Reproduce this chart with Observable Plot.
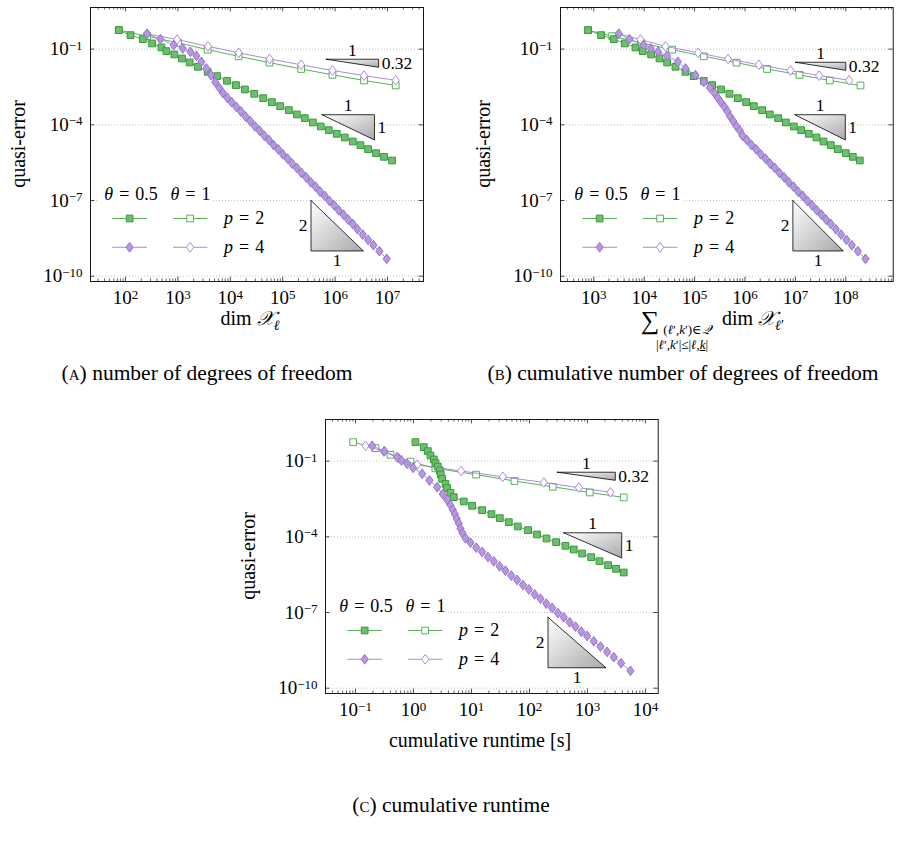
<!DOCTYPE html>
<html>
<head>
<meta charset="utf-8">
<script src="https://cdn.jsdelivr.net/npm/d3@7"></script>
<script src="https://cdn.jsdelivr.net/npm/@observablehq/plot@0.6"></script>
<style>
  body { margin: 0; background: #fff; }
  #fig { position: relative; width: 900px; height: 849px; overflow: hidden; background: #fff;
         font-family: "Liberation Serif", "DejaVu Serif", serif; color: #000; }
  #fig svg { position: absolute; overflow: visible; }
  .t { position: absolute; white-space: nowrap; font-size: 20px; line-height: 1; transform: translate(-50%, -50%); }
  .rot { transform: translate(-50%, -50%) rotate(-90deg); }
  .cap { font-size: 21.5px; }
  .sc { font-variant: small-caps; }
  .sub { font-size: 14px; position: relative; top: 5px; }
</style>
</head>
<body>
<div id="fig"></div>
<script>
// ---- quasi-error per step (log10), shared by the three panels ----
const errP2Adaptive = [-0.247, -0.445, -0.604, -0.775, -0.934, -1.079, -1.211, -1.370, -1.529, -1.700, -1.899,
  -2.070, -2.255, -2.427, -2.599, -2.771, -2.943, -3.101, -3.260, -3.418, -3.590, -3.736, -3.907, -4.066,
  -4.211, -4.357, -4.502, -4.661, -4.806, -4.965, -5.123, -5.269, -5.414];
const errP2Uniform = [-0.247, -0.485, -0.749, -1.020, -1.285, -1.535, -1.787, -2.018, -2.242, -2.440];
const errP4Adaptive = [-0.392, -0.604, -0.841, -0.974, -1.106, -1.264, -1.502, -1.766, -2.031, -2.308, -2.533,
  -2.744, -2.929, -3.101, -3.286, -3.470, -3.672, -3.850, -4.060, -4.230, -4.430, -4.600, -4.800, -4.970,
  -5.170, -5.340, -5.540, -5.710, -5.910, -6.080, -6.280, -6.450, -6.650, -6.820, -7.020, -7.190, -7.390,
  -7.560, -7.760, -7.930, -8.140, -8.350, -8.560, -8.770, -9.010, -9.312];
const errP4Uniform = [-0.392, -0.620, -0.890, -1.145, -1.390, -1.621, -1.846, -2.050, -2.235];

// ---- (a) log10 dim X_l ----
const dofP2Adaptive = [1.873, 2.095, 2.330, 2.508, 2.686, 2.781, 2.933, 3.079, 3.225, 3.384, 3.568, 3.746,
  3.937, 4.108, 4.279, 4.457, 4.629, 4.794, 4.952, 5.117, 5.270, 5.422, 5.575, 5.727, 5.879, 6.032, 6.184,
  6.337, 6.483, 6.629, 6.781, 6.933, 7.086];
const dofP2Uniform = [1.873, 2.413, 3.003, 3.568, 4.159, 4.749, 5.352, 5.949, 6.552, 7.156];
const dofP4Adaptive = [2.413, 2.667, 2.921, 3.092, 3.238, 3.352, 3.448, 3.543, 3.632, 3.714, 3.790, 3.860,
  3.943, 4.025, 4.114, 4.203, 4.292, 4.381, 4.470, 4.559, 4.648, 4.737, 4.825, 4.914, 5.003, 5.092, 5.181,
  5.270, 5.359, 5.448, 5.537, 5.625, 5.714, 5.803, 5.892, 5.981, 6.070, 6.159, 6.248, 6.337, 6.425, 6.527,
  6.629, 6.730, 6.845, 6.984];
const dofP4Uniform = [2.413, 2.984, 3.575, 4.159, 4.749, 5.352, 5.949, 6.552, 7.156];

// ---- (b) log10 cumulative dofs ----
const cumP2Adaptive = [2.888, 3.146, 3.397, 3.615, 3.827, 3.972, 4.138, 4.303, 4.455, 4.620, 4.819, 4.984,
  5.183, 5.348, 5.526, 5.692, 5.857, 6.022, 6.175, 6.340, 6.492, 6.657, 6.810, 6.968, 7.114, 7.266, 7.418,
  7.557, 7.702, 7.841, 8.000, 8.139, 8.278];
const cumP2Uniform = [2.888, 3.364, 3.939, 4.554, 5.183, 5.831, 6.439, 7.081, 7.683, 8.291];
const cumP4Adaptive = [3.496, 3.708, 3.992, 4.131, 4.276, 4.455, 4.667, 4.819, 5.017, 5.183, 5.302, 5.394,
  5.460, 5.520, 5.593, 5.652, 5.705, 5.765, 5.831, 5.897, 5.950, 6.036, 6.128, 6.221, 6.313, 6.406, 6.499,
  6.591, 6.684, 6.776, 6.869, 6.962, 7.054, 7.147, 7.239, 7.332, 7.425, 7.517, 7.610, 7.702, 7.802, 7.907,
  8.013, 8.119, 8.238, 8.390];
const cumP4Uniform = [3.496, 3.926, 4.422, 5.070, 5.665, 6.274, 6.902, 7.471, 8.066];

// ---- (c) log10 cumulative runtime [s] ----
const timeP2Adaptive = [0.034, 0.178, 0.247, 0.293, 0.351, 0.379, 0.420, 0.454, 0.471, 0.494, 0.552, 0.580,
  0.638, 0.695, 0.868, 1.011, 1.184, 1.345, 1.489, 1.644, 1.799, 1.977, 2.132, 2.293, 2.460, 2.621, 2.764,
  2.908, 3.063, 3.207, 3.356, 3.494, 3.626];
const timeP2Uniform = [-1.040, -0.655, -0.397, -0.052, 0.379, 1.080, 1.741, 2.402, 3.040, 3.626];
const timeP4Adaptive = [-0.713, -0.500, -0.282, -0.207, -0.109, -0.006, 0.149, 0.276, 0.408, 0.506, 0.580,
  0.638, 0.678, 0.713, 0.747, 0.782, 0.810, 0.845, 0.897, 0.983, 1.083, 1.184, 1.284, 1.385, 1.486, 1.586,
  1.687, 1.787, 1.888, 1.989, 2.089, 2.190, 2.290, 2.391, 2.491, 2.592, 2.693, 2.793, 2.894, 2.994, 3.109,
  3.224, 3.339, 3.454, 3.580, 3.741];
const timeP4Uniform = [-0.828, -0.511, -0.253, 0.063, 0.822, 1.540, 2.247, 2.851, 3.397];

// ---- slope triangles: corner (log10 x, log10 y), run/rise in decades ----
const trianglesA = [
  {shape: "upper", x: 5.83, y: -1.40, run: 1, rise: 0.32, runLabel: "1", riseLabel: "0.32"},
  {shape: "upper", x: 5.75, y: -3.60, run: 1, rise: 1, runLabel: "1", riseLabel: "1"},
  {shape: "lower", x: 5.54, y: -7.00, run: 1, rise: 2, runLabel: "1", riseLabel: "2"}
];
const trianglesB = [
  {shape: "upper", x: 7.00, y: -1.52, run: 1, rise: 0.32, runLabel: "1", riseLabel: "0.32"},
  {shape: "upper", x: 6.99, y: -3.60, run: 1, rise: 1, runLabel: "1", riseLabel: "1"},
  {shape: "lower", x: 6.95, y: -7.00, run: 1, rise: 2, runLabel: "1", riseLabel: "2"}
];
const trianglesC = [
  {shape: "upper", x: 2.48, y: -1.44, run: 1, rise: 0.32, runLabel: "1", riseLabel: "0.32"},
  {shape: "upper", x: 2.59, y: -3.84, run: 1, rise: 1, runLabel: "1", riseLabel: "1"},
  {shape: "lower", x: 2.32, y: -7.19, run: 1, rise: 2, runLabel: "1", riseLabel: "2"}
];

const yMajorExp = [-1, -4, -7, -10];
const yLogDomain = [-10.21, 0.65];

const FONT = '"Liberation Serif", "DejaVu Serif", serif';
const GREEN = {line: "#46a846", fill: "#6cbf6c", stroke: "#3a9a3a"};
const PURPLE = {line: "#a17fd2", fill: "#b698de", stroke: "#9672ca"};

// marker shapes
const square = {draw(ctx, size) { const s = Math.sqrt(size) / 2; ctx.rect(-s, -s, 2 * s, 2 * s); }};
const diamond = {draw(ctx, size) {
  const s = Math.sqrt(size), h = 0.595 * s, w = 0.44 * s;
  ctx.moveTo(0, -h); ctx.lineTo(w, 0); ctx.lineTo(0, h); ctx.lineTo(-w, 0); ctx.closePath();
}};
const R_SQUARE = 3.8, R_DIAMOND = 4.6;

const styles = {
  p2u: {c: GREEN, filled: false, symbol: square, r: R_SQUARE},
  p2a: {c: GREEN, filled: true, symbol: square, r: R_SQUARE},
  p4u: {c: PURPLE, filled: false, symbol: diamond, r: R_DIAMOND},
  p4a: {c: PURPLE, filled: true, symbol: diamond, r: R_DIAMOND}
};
const drawOrder = ["p2u", "p2a", "p4u", "p4a"];

const panels = [
  {id: "a", left: 0, top: 0, width: 450, mLeft: 90, mRight: 27, xLog: [1.333, 7.686],
   xs: {p2a: dofP2Adaptive, p2u: dofP2Uniform, p4a: dofP4Adaptive, p4u: dofP4Uniform}, tris: trianglesA},
  {id: "b", left: 450, top: 0, width: 450, mLeft: 110, mRight: 7.3, xLog: [2.34, 8.94],
   xs: {p2a: cumP2Adaptive, p2u: cumP2Uniform, p4a: cumP4Adaptive, p4u: cumP4Uniform}, tris: trianglesB},
  {id: "c", left: 230, top: 412, width: 440, mLeft: 95, mRight: 12.3, xLog: [-1.517, 4.22],
   xs: {p2a: timeP2Adaptive, p2u: timeP2Uniform, p4a: timeP4Adaptive, p4u: timeP4Uniform}, tris: trianglesC}
];
const errs = {p2a: errP2Adaptive, p2u: errP2Uniform, p4a: errP4Adaptive, p4u: errP4Uniform};

const fig = document.getElementById("fig");
const M_TOP = 7, M_BOTTOM = 29, FRAME_H = 274;

function logTicks([lo, hi]) {
  const majors = [], minors = [];
  for (let e = Math.floor(lo); e <= Math.ceil(hi); e++) {
    for (let k = 1; k < 10; k++) {
      const lv = Math.log10(k) + e;
      if (lv < lo || lv > hi) continue;
      (k === 1 ? majors : minors).push(k * Math.pow(10, e));
    }
  }
  return {majors, minors};
}

function drawPanel(p) {
  const height = M_TOP + FRAME_H + M_BOTTOM;
  const frameW = p.width - p.mLeft - p.mRight;
  const xDom = p.xLog.map(v => 10 ** v), yDom = yLogDomain.map(v => 10 ** v);
  const pxDecX = frameW / (p.xLog[1] - p.xLog[0]);
  const pxDecY = FRAME_H / (yLogDomain[1] - yLogDomain[0]);
  const shiftX = (v, px) => v * 10 ** (px / pxDecX);
  const shiftY = (v, px) => v * 10 ** (px / pxDecY);
  const {majors, minors} = logTicks(p.xLog);
  const yMajor = yMajorExp.map(e => 10 ** e);
  const gid = `slopeFill-${p.id}`;
  const expFmt = d => "10^" + Math.round(Math.log10(d));

  const marks = [
    Plot.ruleY(yMajor, {y: d => d, stroke: "#b5b5b5", strokeWidth: 0.8, strokeDasharray: "1 2"}),
    // inward log ticks, bottom and top
    Plot.ruleX(minors, {x: d => d, y1: yDom[0], y2: shiftY(yDom[0], 2.6), stroke: "#000", strokeWidth: 0.6}),
    Plot.ruleX(majors, {x: d => d, y1: yDom[0], y2: shiftY(yDom[0], 4.4), stroke: "#000", strokeWidth: 0.7}),
    Plot.ruleX(minors, {x: d => d, y1: yDom[1], y2: shiftY(yDom[1], -2.6), stroke: "#000", strokeWidth: 0.6}),
    Plot.ruleX(majors, {x: d => d, y1: yDom[1], y2: shiftY(yDom[1], -4.4), stroke: "#000", strokeWidth: 0.7}),
    // inward y ticks, left and right
    Plot.ruleY(yMajor, {y: d => d, x1: xDom[0], x2: shiftX(xDom[0], 4.4), stroke: "#000", strokeWidth: 0.7}),
    Plot.ruleY(yMajor, {y: d => d, x1: xDom[1], x2: shiftX(xDom[1], -4.4), stroke: "#000", strokeWidth: 0.7}),
    Plot.axisX(majors, {anchor: "bottom", tickSize: 0, tickPadding: 9, tickFormat: expFmt, label: null, fontSize: 19}),
    Plot.axisY(yMajor, {anchor: "left", tickSize: 0, tickPadding: 8, tickFormat: expFmt, label: null, fontSize: 19})
  ];

  // slope triangles
  for (const t of p.tris) {
    const pts = t.shape === "upper"
      ? [[t.x, t.y], [t.x + t.run, t.y], [t.x + t.run, t.y - t.rise], [t.x, t.y]]
      : [[t.x, t.y], [t.x, t.y - t.rise], [t.x + t.run, t.y - t.rise], [t.x, t.y]];
    marks.push(Plot.line(pts, {x: d => 10 ** d[0], y: d => 10 ** d[1], fill: `url(#${gid})`,
      stroke: "#000", strokeWidth: 0.8, strokeLinejoin: "miter"}));
    const labels = t.shape === "upper"
      ? [{x: t.x + t.run / 2, y: t.y, text: t.runLabel, dx: 0, dy: -9, anchor: "middle"},
         {x: t.x + t.run, y: t.y - t.rise / 2, text: t.riseLabel, dx: 3, dy: 0, anchor: "start"}]
      : [{x: t.x, y: t.y - t.rise / 2, text: t.riseLabel, dx: -3.5, dy: 0, anchor: "end"},
         {x: t.x + t.run / 2, y: t.y - t.rise, text: t.runLabel, dx: 0, dy: 9.5, anchor: "middle"}];
    for (const l of labels) {
      marks.push(Plot.text([l], {x: d => 10 ** d.x, y: d => 10 ** d.y, text: "text", dx: l.dx, dy: l.dy,
        textAnchor: l.anchor, fontSize: 17.5, fill: "#000"}));
    }
  }

  // convergence curves
  for (const key of drawOrder) {
    const s = styles[key];
    const rows = p.xs[key].map((v, i) => ({x: 10 ** v, y: 10 ** errs[key][i]}));
    marks.push(Plot.line(rows, {x: "x", y: "y", stroke: s.c.line, strokeWidth: 0.9}));
    marks.push(Plot.dot(rows, {x: "x", y: "y", symbol: s.symbol, r: s.r,
      fill: s.filled ? s.c.fill : "#fff", stroke: s.filled ? s.c.stroke : s.c.line,
      strokeWidth: s.filled ? 1 : 0.9}));
  }
  marks.push(Plot.frame({stroke: "#000", strokeWidth: 0.9}));

  const svg = Plot.plot({
    width: p.width, height,
    marginLeft: p.mLeft, marginRight: p.mRight, marginTop: M_TOP, marginBottom: M_BOTTOM,
    x: {type: "log", domain: xDom},
    y: {type: "log", domain: yDom},
    style: {fontFamily: FONT, fontSize: "19px", background: "transparent", color: "#000", overflow: "visible"},
    marks
  });
  svg.style.left = p.left + "px";
  svg.style.top = p.top + "px";

  const root = d3.select(svg);
  // gradient fill for the slope triangles
  const grad = root.insert("defs", ":first-child").append("linearGradient")
    .attr("id", gid).attr("x1", 0).attr("y1", 0).attr("x2", 1).attr("y2", 1);
  grad.append("stop").attr("offset", 0).attr("stop-color", "#ffffff");
  grad.append("stop").attr("offset", 1).attr("stop-color", "#a9a9a9");

  // powers of ten with raised exponents
  root.selectAll("text").each(function () {
    const m = /^10\^(-?\d+)$/.exec(this.textContent);
    if (!m) return;
    const t = d3.select(this);
    t.selectAll("*").remove();
    t.text(null);
    t.append("tspan").text("10");
    t.append("tspan").attr("dy", "-0.42em").attr("font-size", "13px").text(m[1].replace("-", "\u2212"));
  });

  drawLegend(root, p.mLeft, M_TOP);
  fig.appendChild(svg);
}

function drawLegend(root, ox, oy) {
  const g = root.append("g").attr("transform", `translate(${ox},${oy})`)
    .attr("font-family", FONT).attr("font-size", 18).attr("text-anchor", "start");
  const hy = 187.5;
  g.append("rect").attr("x", 7).attr("y", hy - 8).attr("width", 114).attr("height", 16).attr("fill", "#fff");
  const head = (x, val) => {
    const t = g.append("text").attr("x", x).attr("y", hy).attr("dy", "0.32em");
    t.append("tspan").attr("font-style", "italic").text("θ");
    t.append("tspan").text("\u2004=\u2004" + val);
  };
  head(14.3, "0.5");
  head(80.5, "1");
  const rows = [{y: 211.5, a: "p2a", u: "p2u", label: "2"}, {y: 240.3, a: "p4a", u: "p4u", label: "4"}];
  for (const row of rows) {
    for (const [key, x0, x1] of [[row.a, 22.3, 57], [row.u, 83, 117.3]]) {
      const s = styles[key];
      g.append("line").attr("x1", x0).attr("x2", x1).attr("y1", row.y).attr("y2", row.y)
        .attr("stroke", s.c.line).attr("stroke-width", 0.9);
      g.append("path").attr("transform", `translate(${(x0 + x1) / 2},${row.y})`)
        .attr("d", d3.symbol(s.symbol, s.r * s.r * Math.PI)())
        .attr("fill", s.filled ? s.c.fill : "#fff")
        .attr("stroke", s.filled ? s.c.stroke : s.c.line).attr("stroke-width", s.filled ? 1 : 0.9);
    }
    const t = g.append("text").attr("x", 134).attr("y", row.y).attr("dy", "0.32em");
    t.append("tspan").attr("font-style", "italic").text("p");
    t.append("tspan").text("\u2004=\u2004" + row.label);
  }
}

panels.forEach(drawPanel);

// axis titles and sub-captions
function addText(html, x, y, cls = "", extra = "") {
  const el = document.createElement("div");
  el.className = "t " + cls;
  el.style.cssText = `left:${x}px;top:${y}px;${extra}`;
  el.innerHTML = html;
  fig.appendChild(el);
}
addText("quasi-error", 18, 144, "rot");
addText("quasi-error", 483, 144, "rot");
addText("quasi-error", 248, 556, "rot");
addText('dim <i>𝒳</i><span class="sub"><i>ℓ</i></span>', 250, 318);
addText("∑", 650, 321, "", "font-size:26px;");
addText('<span style="font-size:13px">(<i>ℓ</i>′,<i>k</i>′)∈<i>𝒬</i></span>', 687, 327);
addText('<span style="font-size:13px">|<i>ℓ</i>′,<i>k</i>′|≤|<i>ℓ</i>,<u><i>k</i></u>|</span>', 682, 342);
addText('dim <i>𝒳</i><span class="sub"><i>ℓ</i>′</span>', 753, 318);
addText("cumulative runtime [s]", 480, 740);
addText('<span class="sc">(a)</span> number of degrees of freedom', 207, 374, "cap");
addText('<span class="sc">(b)</span> cumulative number of degrees of freedom', 683, 374, "cap");
addText('<span class="sc">(c)</span> cumulative runtime', 451, 806, "cap");
</script>
</body>
</html>
